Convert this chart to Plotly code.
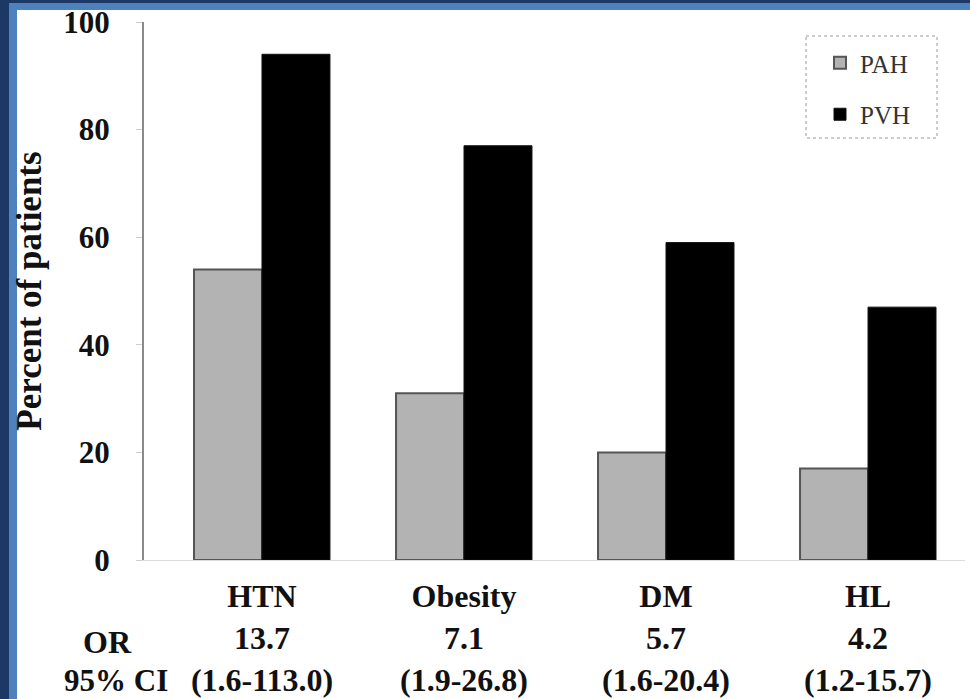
import plotly.graph_objects as go

categories = ["HTN", "Obesity", "DM", "HL"]
odds_ratios = ["13.7", "7.1", "5.7", "4.2"]
conf_intervals = ["(1.6-113.0)", "(1.9-26.8)", "(1.6-20.4)", "(1.2-15.7)"]
pah_values = [54, 31, 20, 17]
pvh_values = [94, 77, 59, 47]
y_ticks = [0, 20, 40, 60, 80, 100]

W, H = 970, 699
ML, MR, MT, MB = 144, 5, 22, 139
PW, PH = W - ML - MR, H - MT - MB

def px(x):
    return (x - ML) / PW

def py(y):
    return (H - MB - y) / PH

ticktext = [f"<b>{c}</b><br><b>{o}</b><br><b>{ci}</b>" for c, o, ci in zip(categories, odds_ratios, conf_intervals)]

fig = go.Figure()
fig.add_trace(go.Bar(
    x=categories, y=pah_values, name="PAH", legendgroup="a",
    marker=dict(color="#b3b3b3", line=dict(color="#555555", width=2)),
))
fig.add_trace(go.Bar(
    x=categories, y=pvh_values, name="PVH", legendgroup="b",
    marker=dict(color="#000000", line=dict(color="#111111", width=1)),
))

serif = "Liberation Serif, Times New Roman, serif"

fig.update_layout(
    width=W, height=H,
    margin=dict(l=ML, r=MR, t=MT, b=MB, autoexpand=False),
    paper_bgcolor="white", plot_bgcolor="white",
    barmode="group", bargap=0.327, bargroupgap=0,
    font=dict(family=serif, size=33, color="#111111"),
    showlegend=True,
    legend=dict(
        x=px(820), y=py(40), xanchor="left", yanchor="top",
        font=dict(family=serif, size=25, color="#333333"),
        bgcolor="rgba(0,0,0,0)", borderwidth=0,
        tracegroupgap=16, itemwidth=30,
    ),
    xaxis=dict(
        type="category", range=[-0.584, 3.48], automargin=False,
        tickmode="array", tickvals=categories, ticktext=ticktext,
        showline=True, linecolor="#dddddd", linewidth=1,
        ticks="", showgrid=False, ticklabelstandoff=8,
        tickfont=dict(family=serif, size=32, color="#111111"),
    ),
    yaxis=dict(
        range=[0, 100], tickvals=y_ticks, automargin=False,
        ticktext=[f"<b>{v}</b>" for v in y_ticks],
        showline=True, linecolor="#8a8a8a", linewidth=2,
        ticks="outside", ticklen=6, tickcolor="#cccccc", tickwidth=1,
        showgrid=False, zeroline=False, ticklabelstandoff=20,
        tickfont=dict(family=serif, size=31, color="#111111"),
        title=dict(text="<b>Percent of patients</b>", standoff=11,
                   font=dict(family=serif, size=35, color="#111111")),
    ),
    annotations=[
        dict(text="<b>OR</b>", x=px(107), y=py(642), xref="paper", yref="paper",
             xanchor="center", yanchor="middle", showarrow=False,
             font=dict(family=serif, size=32, color="#111111")),
        dict(text="<b>95% CI</b>", x=px(116), y=py(680), xref="paper", yref="paper",
             xanchor="center", yanchor="middle", showarrow=False,
             font=dict(family=serif, size=31, color="#111111")),
    ],
    shapes=[
        # legend box (dotted)
        dict(type="rect", xref="paper", yref="paper",
             x0=px(806), x1=px(937), y0=py(36), y1=py(138),
             line=dict(color="#cccccc", width=2, dash="dot"), fillcolor="rgba(0,0,0,0)"),
        # frame: navy and blue bands
        dict(type="rect", xref="paper", yref="paper", x0=px(0), x1=px(9), y0=py(0), y1=py(H),
             line=dict(width=0), fillcolor="#1b3964", layer="above"),
        dict(type="rect", xref="paper", yref="paper", x0=px(9), x1=px(17), y0=py(3), y1=py(H),
             line=dict(width=0), fillcolor="#4f81bd", layer="above"),
        dict(type="rect", xref="paper", yref="paper", x0=px(0), x1=px(W), y0=py(0), y1=py(3),
             line=dict(width=0), fillcolor="#1b3964", layer="above"),
        dict(type="rect", xref="paper", yref="paper", x0=px(9), x1=px(W), y0=py(3), y1=py(10),
             line=dict(width=0), fillcolor="#4f81bd", layer="above"),
    ],
)

fig.write_html("out.html", config={"displayModeBar": False},
               post_script="document.body.style.margin='0';document.body.style.overflow='hidden';")
